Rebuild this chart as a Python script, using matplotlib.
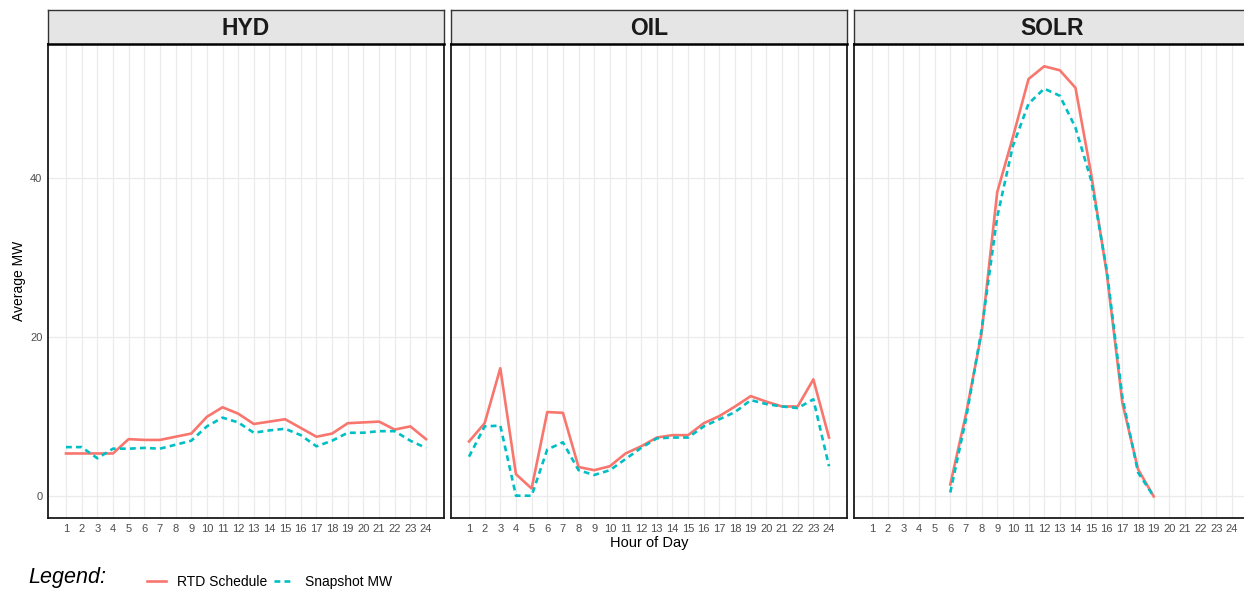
import numpy as np
import matplotlib.pyplot as plt
from matplotlib.lines import Line2D

plt.rcParams['font.family'] = ['Liberation Sans', 'DejaVu Sans']

hours = list(range(1, 25))
solr_hours = list(range(6, 20))

hyd_rtd = [5.4, 5.4, 5.4, 5.4, 7.2, 7.1, 7.1, 7.5, 7.9, 10.0, 11.2, 10.4,
           9.1, 9.4, 9.7, 8.6, 7.5, 7.9, 9.2, 9.3, 9.4, 8.4, 8.8, 7.2]
hyd_snap = [6.2, 6.2, 4.8, 6.0, 6.0, 6.1, 6.0, 6.5, 7.0, 8.8, 9.9, 9.3,
            8.0, 8.3, 8.5, 7.7, 6.3, 7.0, 8.0, 8.0, 8.2, 8.2, 7.0, 6.1]

oil_rtd = [6.9, 9.2, 16.1, 2.8, 1.0, 10.6, 10.5, 3.7, 3.3, 3.8, 5.4, 6.3,
           7.4, 7.7, 7.7, 9.2, 10.1, 11.3, 12.6, 11.9, 11.3, 11.3, 14.7, 7.4]
oil_snap = [5.0, 8.8, 8.9, 0.1, 0.1, 5.9, 6.8, 3.3, 2.7, 3.3, 4.7, 6.1,
            7.3, 7.4, 7.4, 8.8, 9.7, 10.6, 12.1, 11.6, 11.3, 11.1, 12.2, 3.8]

solr_rtd = [1.5, 10.3, 20.5, 38.2, 45.1, 52.4, 54.0, 53.5, 51.3, 40.5,
            28.0, 11.7, 3.4, 0.0]
solr_snap = [0.5, 9.7, 20.9, 35.1, 44.0, 49.3, 51.2, 50.3, 46.3, 39.7,
             28.4, 12.4, 3.0, 0.0]

panels = [
    ("HYD", hours, hyd_rtd, hyd_snap),
    ("OIL", hours, oil_rtd, oil_snap),
    ("SOLR", solr_hours, solr_rtd, solr_snap),
]

red = '#F8766D'
teal = '#00BFC4'

W, H = 1244, 591
fig = plt.figure(figsize=(W / 100, H / 100), dpi=100)

lefts = [48, 451, 854]
pw = 396
top, bottom = 44, 518
strip_top = 10

for i, (name, x, rtd, snap) in enumerate(panels):
    l = lefts[i]
    ax = fig.add_axes([l / W, 1 - bottom / H, pw / W, (bottom - top) / H])
    ax.plot(x, rtd, color=red, lw=1.9, solid_joinstyle='round', zorder=3)
    ax.plot(x, snap, color=teal, lw=1.9, ls=(0, (2.2, 1.6)), zorder=3)
    ax.set_xlim(1 - 1.15, 24 + 1.15)
    ax.set_ylim(-2.7, 56.8)
    ax.set_xticks(hours)
    ax.set_xticklabels([str(h) for h in hours], fontsize=8, color='#4d4d4d')
    ax.set_yticks([0, 20, 40])
    if i == 0:
        ax.set_yticklabels(['0', '20', '40'], fontsize=8, color='#4d4d4d')
        ax.set_ylabel('Average MW', fontsize=10, labelpad=3)
    else:
        ax.set_yticklabels([])
    if i == 1:
        ax.set_xlabel('Hour of Day', fontsize=10.5, labelpad=2)
    ax.tick_params(length=0, pad=4)
    ax.grid(True, color='#ebebeb', lw=0.9)
    ax.set_axisbelow(True)
    for s in ax.spines.values():
        s.set_color('#1a1a1a')
        s.set_linewidth(1.3)

    sax = fig.add_axes([l / W, 1 - top / H, pw / W, (top - strip_top) / H])
    sax.set_facecolor('#e5e5e5')
    sax.set_xticks([])
    sax.set_yticks([])
    for s in sax.spines.values():
        s.set_color('#333333')
        s.set_linewidth(1.0)
    sax.spines['bottom'].set_linewidth(1.8)
    sax.spines['bottom'].set_color('black')
    sax.text(0.5, 0.45, name, ha='center', va='center', fontsize=16.5,
             fontweight='bold', transform=sax.transAxes, color='#1a1a1a')

fig.text(28 / W, 1 - 577 / H, 'Legend:', fontsize=15.5, style='italic',
         va='center', ha='left')
handles = [Line2D([], [], color=red, lw=1.9),
           Line2D([], [], color=teal, lw=1.9, ls=(0, (2.2, 1.6)))]
fig.legend(handles, ['RTD Schedule', 'Snapshot MW'], loc='center left',
           bbox_to_anchor=(134 / W, 1 - 582 / H), ncol=2, frameon=False,
           fontsize=10, handlelength=1.4, columnspacing=0.5, handletextpad=0.8)

plt.savefig('out.png', dpi=100)
